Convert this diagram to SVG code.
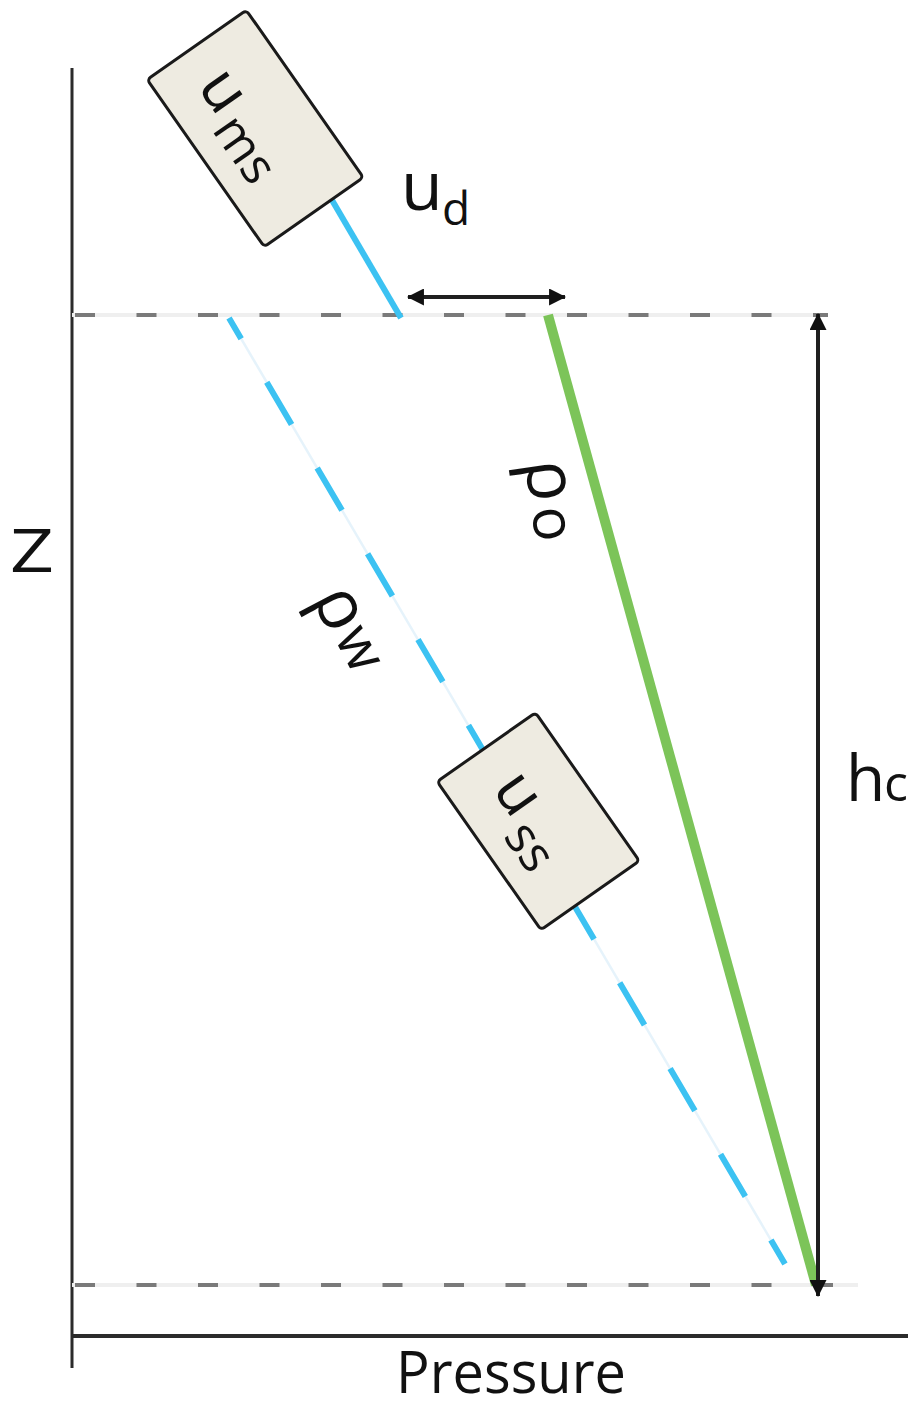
<svg xmlns="http://www.w3.org/2000/svg" width="910" height="1404" viewBox="0 0 910 1404">
<style>
  .axis{stroke:#2b2b2b;stroke-width:3;fill:none}
  .guide-bg{stroke:#efefef;stroke-width:4;fill:none}
  .guide{stroke:#7a7a7a;stroke-width:4;fill:none;stroke-dasharray:20 41.5}
  .blue{stroke:#3cc2f2;stroke-width:6;fill:none}
  .blue-bg{stroke:#e6f3fb;stroke-width:2.5;fill:none}
  .green{stroke:#7cc459;stroke-width:10;fill:none}
  .dim{stroke:#1f1f1f;stroke-width:4;fill:none}
  .box{fill:#eeebe1;stroke:#1a1a1a;stroke-width:3}
  .t{font-family:"Open Sans","Liberation Sans",sans-serif;fill:#111}
</style>
<defs>
  <marker id="ah" viewBox="0 0 16 16" refX="15" refY="8" markerWidth="17" markerHeight="17" markerUnits="userSpaceOnUse" orient="auto-start-reverse">
    <path d="M0,0 L16,8 L0,16 Z" fill="#111"/>
  </marker>
</defs>
<rect width="910" height="1404" fill="#ffffff"/>

<g id="axes">
  <line class="axis" x1="72" y1="68" x2="72" y2="1368"/>
  <line class="axis" x1="72" y1="1336" x2="908" y2="1336" style="stroke-width:4"/>
  <text class="t" x="10" y="572" font-size="60" textLength="44" lengthAdjust="spacingAndGlyphs">Z</text>
  <text class="t" x="396" y="1393" font-size="58" textLength="230" lengthAdjust="spacingAndGlyphs">Pressure</text>
</g>

<g id="guides">
  <line class="guide-bg" x1="72" y1="315" x2="828" y2="315"/>
  <line class="guide" x1="75" y1="315" x2="828" y2="315"/>
  <line class="guide-bg" x1="72" y1="1285" x2="858" y2="1285"/>
  <line class="guide" x1="75" y1="1285" x2="858" y2="1285"/>
</g>

<g id="connectors">
  <line class="blue" x1="322" y1="183" x2="401" y2="318"/>
  <line class="blue-bg" x1="229" y1="318" x2="785" y2="1264"/>
  <line class="blue" x1="229" y1="318" x2="785" y2="1264" style="stroke-dasharray:49 50.5;stroke-dashoffset:25"/>
  <line class="green" x1="548" y1="315" x2="816" y2="1285"/>
  <line class="dim" x1="408" y1="297" x2="565" y2="297" marker-start="url(#ah)" marker-end="url(#ah)"/>
  <line class="dim" x1="818" y1="314" x2="818" y2="1296" marker-start="url(#ah)" marker-end="url(#ah)"/>
</g>

<g id="node-ums" transform="translate(255.25,128.5) rotate(55)">
  <rect class="box" x="-102" y="-60.5" width="204" height="121" rx="4"/>
  <text class="t" x="-68" y="24" font-size="62">u</text>
  <text class="t" x="-24" y="37" font-size="50">ms</text>
</g>

<g id="node-uss" transform="translate(538.25,821.25) rotate(55)">
  <rect class="box" x="-90.5" y="-60" width="181" height="120" rx="4"/>
  <text class="t" x="-53" y="20" font-size="62">u</text>
  <text class="t" x="-8" y="38" font-size="50">ss</text>
</g>

<g id="label-ud">
  <text class="t" x="401" y="210" font-size="68">u</text>
  <text class="t" x="442" y="225" font-size="46">d</text>
</g>

<g id="label-hc">
  <text class="t" x="846" y="801" font-size="64">h</text>
  <text class="t" x="884" y="801" font-size="50">c</text>
</g>

<g id="label-rho-o" transform="translate(546.7,481.7) rotate(82)">
  <text class="t" x="-22.4" y="19" font-size="70">ρ</text>
  <text class="t" x="24.8" y="19" font-size="58">o</text>
</g>

<g id="label-rho-w" transform="translate(338.3,610) rotate(62)">
  <text class="t" x="-22.4" y="19" font-size="70">ρ</text>
  <text class="t" x="22.4" y="17" font-size="56">w</text>
</g>
</svg>
